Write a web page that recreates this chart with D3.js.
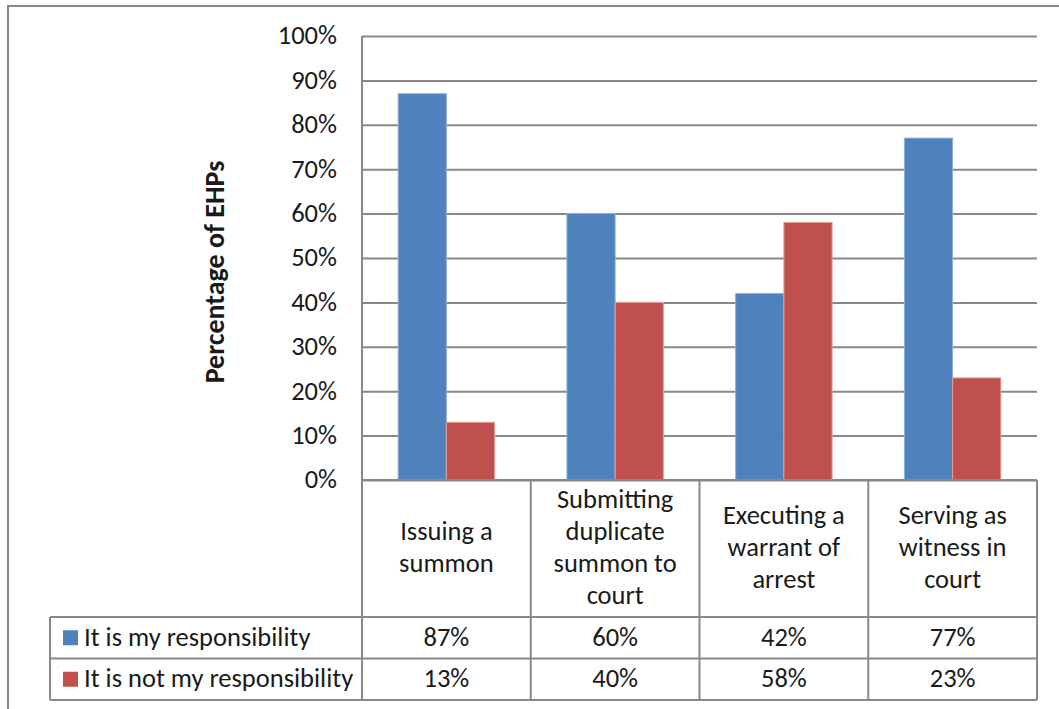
<!DOCTYPE html>
<html>
<head>
<meta charset="utf-8">
<script src="https://cdn.jsdelivr.net/npm/d3@7"></script>
<style>
  html, body { margin: 0; padding: 0; background: #fff; }
  svg { display: block; }
  text { font-family: Calibri, Carlito, "Open Sans", sans-serif; fill: #1a1a1a; }
</style>
</head>
<body>
<svg id="chart" width="1059" height="709"></svg>
<script>
// Survey responses: who is responsible for each court-related task
const categories = [
  ["Issuing a", "summon"],
  ["Submitting", "duplicate", "summon to", "court"],
  ["Executing a", "warrant of", "arrest"],
  ["Serving as", "witness in", "court"]
];
const seriesNames = ["It is my responsibility", "It is not my responsibility"];
const mine = [0.87, 0.60, 0.42, 0.77];
const notMine = [0.13, 0.40, 0.58, 0.23];
const yTicks = [0, 0.1, 0.2, 0.3, 0.4, 0.5, 0.6, 0.7, 0.8, 0.9, 1.0];
const colors = ["#4F81BD", "#C0504D"];
const yTitle = "Percentage of EHPs";

const series = [mine, notMine];
const svg = d3.select("#chart");
const gridColor = "#898989";
const fontStack = 'Calibri, Carlito, "Open Sans", sans-serif';
const fs = 26.5;

const plot = { left: 362, right: 1037, top: 36, bottom: 480 };
const table = { left: 50, headerBottom: 617, rowH: 41.5 };

const catIdx = d3.range(categories.length);
const x = d3.scaleBand().domain(catIdx).range([plot.left, plot.right]).padding(0);
const xs = d3.scaleBand().domain(d3.range(series.length)).range([0, x.bandwidth()])
  .paddingInner(0).paddingOuter(0.75);
const y = d3.scaleLinear().domain([0, 1]).range([plot.bottom, plot.top]);

// outer chart frame
svg.append("rect").attr("x", 8).attr("y", 6).attr("width", 1100).attr("height", 760)
  .attr("fill", "none").attr("stroke", gridColor).attr("stroke-width", 2);

// gridlines and tick labels
const yAxis = d3.axisLeft(y).tickValues(yTicks).tickFormat(d3.format(".0%"))
  .tickSize(-(plot.right - plot.left)).tickPadding(25);
const gy = svg.append("g").attr("transform", `translate(${plot.left},0)`).call(yAxis);
gy.select(".domain").remove();
gy.selectAll(".tick line").attr("stroke", gridColor).attr("stroke-width", 2);
gy.selectAll(".tick text").attr("font-size", fs).attr("fill", "#1a1a1a")
  .attr("dy", "0.3em").style("font-family", fontStack);

// axis title
svg.append("text")
  .attr("transform", `translate(224,272) rotate(-90)`)
  .attr("text-anchor", "middle")
  .attr("font-size", 28).attr("font-weight", "bold")
  .text(yTitle);

// bars
series.forEach((vals, si) => {
  svg.append("g").selectAll("rect").data(vals).join("rect")
    .attr("x", (d, i) => x(i) + xs(si))
    .attr("y", d => y(d))
    .attr("width", xs.bandwidth())
    .attr("height", d => y(0) - y(d))
    .attr("fill", colors[si])
    .attr("stroke", si === 0 ? "#8fb0d9" : "#e39f9d")
    .attr("stroke-width", 1);
});

// data table
const rowTops = [table.headerBottom, table.headerBottom + table.rowH];
const tableBottom = table.headerBottom + 2 * table.rowH;
const lines = svg.append("g").attr("stroke", gridColor).attr("stroke-width", 2);
// left axis line continuing through the header
lines.append("line").attr("x1", plot.left).attr("x2", plot.left).attr("y1", plot.top).attr("y2", tableBottom);
// column separators
catIdx.forEach(i => {
  const xr = x(i) + x.bandwidth();
  lines.append("line").attr("x1", xr).attr("x2", xr).attr("y1", plot.bottom).attr("y2", tableBottom);
});
// horizontal rules
lines.append("line").attr("x1", plot.left).attr("x2", plot.right).attr("y1", plot.bottom).attr("y2", plot.bottom);
[table.headerBottom, table.headerBottom + table.rowH, tableBottom].forEach(yy => {
  lines.append("line").attr("x1", table.left).attr("x2", plot.right).attr("y1", yy).attr("y2", yy);
});
lines.append("line").attr("x1", table.left).attr("x2", table.left).attr("y1", table.headerBottom).attr("y2", tableBottom);

// category headers
const headerMid = (plot.bottom + table.headerBottom) / 2;
const lineH = 32;
catIdx.forEach(i => {
  const lbl = categories[i];
  const t = svg.append("text").attr("text-anchor", "middle").attr("font-size", fs);
  lbl.forEach((s, k) => {
    t.append("tspan")
      .attr("x", x(i) + x.bandwidth() / 2)
      .attr("y", headerMid + (k - (lbl.length - 1) / 2) * lineH)
      .attr("dy", "0.3em")
      .text(s);
  });
});

// table rows: legend key, series name, values
series.forEach((vals, si) => {
  const cy = rowTops[si] + table.rowH / 2;
  svg.append("rect").attr("x", 63).attr("y", cy - 7.5).attr("width", 15).attr("height", 15)
    .attr("fill", colors[si]);
  svg.append("text").attr("x", 84).attr("y", cy).attr("dy", "0.3em")
    .attr("font-size", fs).text(seriesNames[si]);
  svg.append("g").selectAll("text").data(vals).join("text")
    .attr("x", (d, i) => x(i) + x.bandwidth() / 2)
    .attr("y", cy).attr("dy", "0.3em")
    .attr("text-anchor", "middle").attr("font-size", fs)
    .text(d => d3.format(".0%")(d));
});
</script>
</body>
</html>
